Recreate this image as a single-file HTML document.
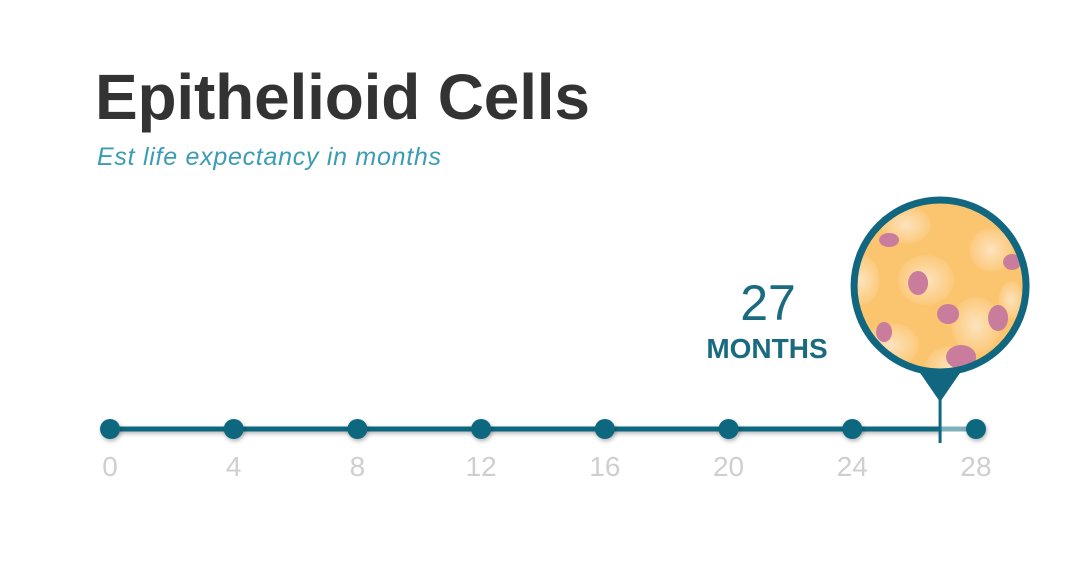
<!DOCTYPE html>
<html><head><meta charset="utf-8"><style>
body{margin:0;background:#fff;width:1080px;height:574px;overflow:hidden;font-family:"Liberation Sans",sans-serif}
</style></head><body>
<svg width="1080" height="574" viewBox="0 0 1080 574">
<defs>
<clipPath id="cc"><circle cx="939" cy="286" r="83"/></clipPath>
<radialGradient id="cell" cx="50%" cy="50%" r="60%"><stop offset="0" stop-color="#fde3bd"/><stop offset="1" stop-color="#fbc46e"/></radialGradient>
<filter id="sh" filterUnits="userSpaceOnUse" x="0" y="0" width="1080" height="574"><feDropShadow dx="1" dy="2" stdDeviation="2" flood-opacity="0.3"/></filter>
</defs>
<text x="95" y="119" font-size="64" font-weight="bold" fill="#333" textLength="495">Epithelioid Cells</text>
<text x="97" y="165" font-size="25" font-style="italic" fill="#3a9cb5" textLength="344">Est life expectancy in months</text>
<g id="axis"></g>
<text id="valnum" x="768" y="320" font-size="50" fill="#1a6b80" text-anchor="middle"></text>
<text id="valunit" x="767" y="358" font-size="28" font-weight="bold" fill="#1a6b80" text-anchor="middle">MONTHS</text>
<g id="marker"></g>
</svg>
<script>
const ticks=[0,4,8,12,16,20,24,28];
const value=[27];
const x0=110,x1=976,yl=429;
const xs=v=>x0+(v-ticks[0])/(ticks[ticks.length-1]-ticks[0])*(x1-x0);
const NS="http://www.w3.org/2000/svg";
const mk=(t,a,p)=>{const e=document.createElementNS(NS,t);for(const k in a)e.setAttribute(k,a[k]);(p||document.querySelector('svg')).appendChild(e);return e;};
const ax=document.getElementById('axis');
const vx=xs(value[0])-5;
let l1=mk('line',{x1:x0,y1:yl,x2:vx,y2:yl,stroke:'#10677f','stroke-width':5,filter:'url(#sh)'},ax);


let l2=mk('line',{x1:vx,y1:yl,x2:x1,y2:yl,stroke:'#7fb0bd','stroke-width':5},ax);


ticks.forEach(t=>{
 const c=mk('circle',{cx:xs(t),cy:yl,r:10,fill:'#10677f',filter:'url(#sh)'},ax);
 
 
 const tx=mk('text',{x:xs(t),y:476,'font-size':28,fill:'#cfcfcf','text-anchor':'middle'},ax);
 tx.textContent=t;
 
 
});
document.getElementById('valnum').textContent=value[0];
const m=document.getElementById('marker');
const cy=286;
mk('line',{x1:vx,y1:390,x2:vx,y2:443,stroke:'#10677f','stroke-width':3},m);
mk('path',{d:`M${vx-22} ${cy+84} L${vx+22} ${cy+84} L${vx} ${cy+116} Z`,fill:'#10677f'},m);
const g=mk('g',{'clip-path':'url(#cc)',transform:`translate(${vx-939},0)`},m);
mk('rect',{x:850,y:197,width:180,height:180,fill:'#fbc46e'},g);
const cells=[[905,225,40,30],[860,280,30,40],[925,280,45,40],[990,250,35,35],[975,325,40,45],[890,345,45,35],[950,365,40,30],[1010,300,20,30]];
cells.forEach(c=>mk('ellipse',{cx:c[0],cy:c[1],rx:c[2]/1.6,ry:c[3]/1.6,fill:'url(#cell)'},g));
const nuc=[[888,240,10,7],[917,283,10,12],[947,314,11,10],[997,318,10,13],[1011,262,9,8],[883,332,8,10],[960,357,15,12]];
nuc.forEach(n=>mk('ellipse',{cx:n[0],cy:n[1],rx:n[2],ry:n[3],fill:'#c97c9c'},g));
mk('circle',{cx:vx,cy:cy,r:86,fill:'none',stroke:'#10677f','stroke-width':7},m);
</script>
</body></html>
